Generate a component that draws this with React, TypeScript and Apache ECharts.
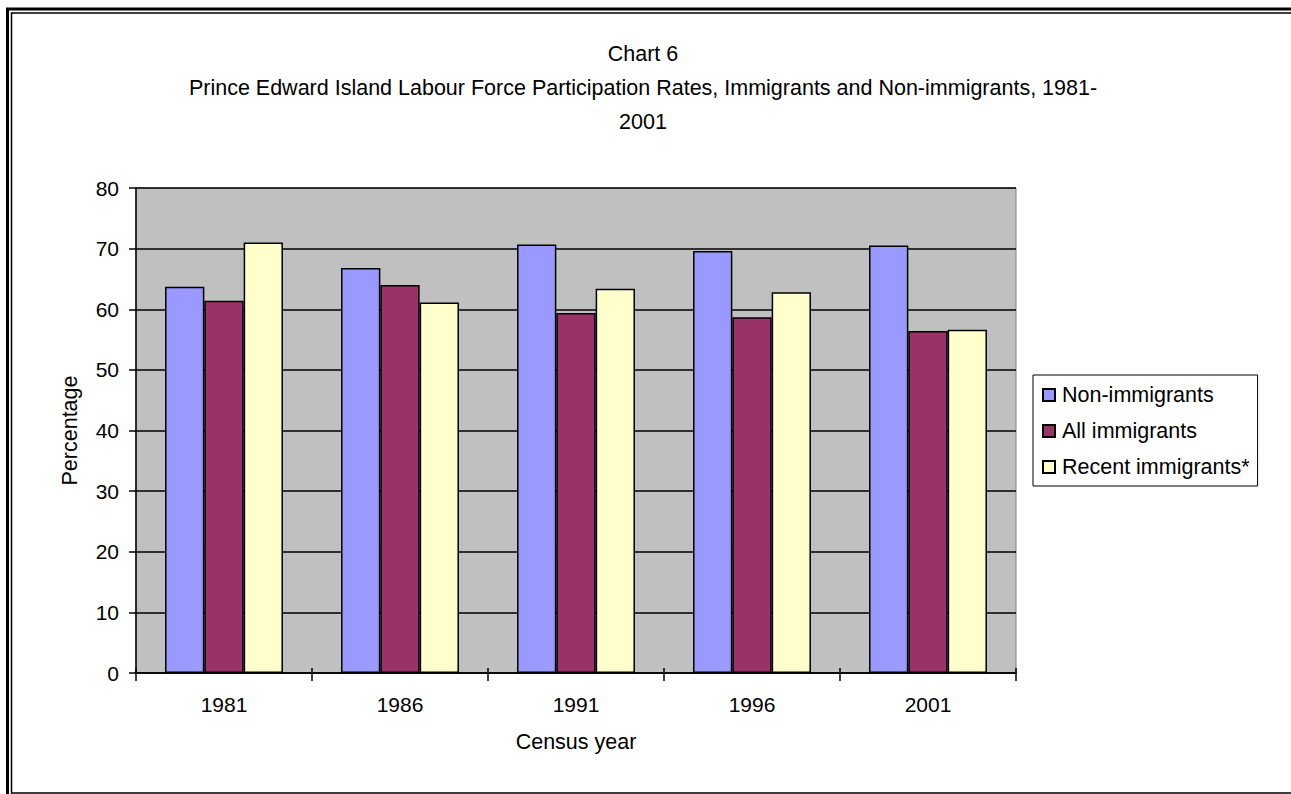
import React, { useEffect, useRef } from "react";
import * as echarts from "echarts";

// Census years on the category axis
const years = ["1981", "1986", "1991", "1996", "2001"];

// Labour force participation rates (%)
const nonImmigrants = [63.7, 66.8, 70.7, 69.6, 70.5];
const allImmigrants = [61.4, 64.0, 59.4, 58.7, 56.4];
const recentImmigrants = [71.0, 61.1, 63.4, 62.8, 56.6];

const seriesNames = ["Non-immigrants", "All immigrants", "Recent immigrants*"];
const seriesColors = ["#9999FF", "#993366", "#FFFFCC"];

const titleLines = [
  "Chart 6",
  "Prince Edward Island Labour Force Participation Rates, Immigrants and Non-immigrants, 1981-",
  "2001",
];

const FONT = "'Liberation Sans', Arial, sans-serif";

export default function App() {
  const ref = useRef<HTMLDivElement>(null);

  useEffect(() => {
    if (!ref.current) return;
    const chart = echarts.init(ref.current, null, { renderer: "svg" });

    const values = [nonImmigrants, allImmigrants, recentImmigrants];

    chart.setOption({
      animation: false,
      backgroundColor: "#ffffff",
      textStyle: { fontFamily: FONT, color: "#000" },
      title: {
        text: titleLines.join("\n"),
        left: 643,
        textAlign: "center",
        top: 37,
        padding: 0,
        textStyle: {
          fontFamily: FONT,
          fontSize: 21.5,
          fontWeight: "normal",
          color: "#000",
          lineHeight: 34,
        },
      },
      legend: {
        orient: "vertical",
        left: 1033,
        top: 375,
        padding: [9, 8, 8, 9],
        itemWidth: 12,
        itemHeight: 12,
        itemGap: 14,
        icon: "rect",
        borderColor: "#000",
        borderWidth: 1,
        backgroundColor: "#fff",
        textStyle: {
          fontFamily: FONT,
          fontSize: 21.5,
          lineHeight: 20,
          color: "#000",
          padding: [0, 0, 0, 2],
        },
        data: seriesNames,
      },
      grid: {
        left: 136,
        right: 275,
        top: 188,
        bottom: 121,
        show: true,
        backgroundColor: "#C0C0C0",
        borderColor: "#808080",
        borderWidth: 1,
      },
      xAxis: [
        {
          type: "category",
          data: years,
          boundaryGap: true,
          name: "Census year",
          nameLocation: "middle",
          nameGap: 58,
          nameMoveOverlap: false,
          nameTextStyle: { fontFamily: FONT, fontSize: 21.5, color: "#000" },
          axisLine: { lineStyle: { color: "#000", width: 1.5 } },
          axisTick: { show: true, interval: 0, length: 8, lineStyle: { color: "#000", width: 1.5 } },
          axisLabel: { fontFamily: FONT, fontSize: 21, color: "#000", margin: 21 },
        },
        {
          type: "category",
          data: years,
          position: "bottom",
          boundaryGap: true,
          axisLine: { show: false },
          axisTick: { show: true, inside: true, interval: 0, length: 5, lineStyle: { color: "#000", width: 1.5 } },
          axisLabel: { show: false },
          splitLine: { show: false },
        },
      ],
      yAxis: {
        type: "value",
        min: 0,
        max: 80,
        interval: 10,
        name: "Percentage",
        nameLocation: "middle",
        nameGap: 55,
        nameMoveOverlap: false,
        nameTextStyle: { fontFamily: FONT, fontSize: 21.5, color: "#000" },
        axisLine: { show: true, lineStyle: { color: "#000", width: 1.5 } },
        axisTick: { show: true, length: 7, lineStyle: { color: "#000", width: 1.5 } },
        axisLabel: { fontFamily: FONT, fontSize: 21, color: "#000", margin: 17 },
        splitLine: { show: true, lineStyle: { color: "#000", width: 1.5 } },
      },
      series: seriesNames.map((name, i) => ({
        name,
        type: "bar",
        data: values[i],
        barGap: "0%",
        barCategoryGap: "33%",
        itemStyle: { color: seriesColors[i], borderColor: "#000", borderWidth: 1.5 },
      })),
      graphic: [
        {
          type: "rect",
          shape: { x: 7.5, y: 9, width: 1300, height: 800 },
          style: { fill: "none", stroke: "#000", lineWidth: 3 },
          silent: true,
        },
        {
          type: "rect",
          shape: { x: 11.5, y: 13, width: 1300, height: 780 },
          style: { fill: "none", stroke: "#000", lineWidth: 1.5 },
          silent: true,
        },
      ],
    });

    return () => chart.dispose();
  }, []);

  return (
    <div
      ref={ref}
      style={{ position: "absolute", left: 0, top: 0, width: 1291, height: 794 }}
    />
  );
}
